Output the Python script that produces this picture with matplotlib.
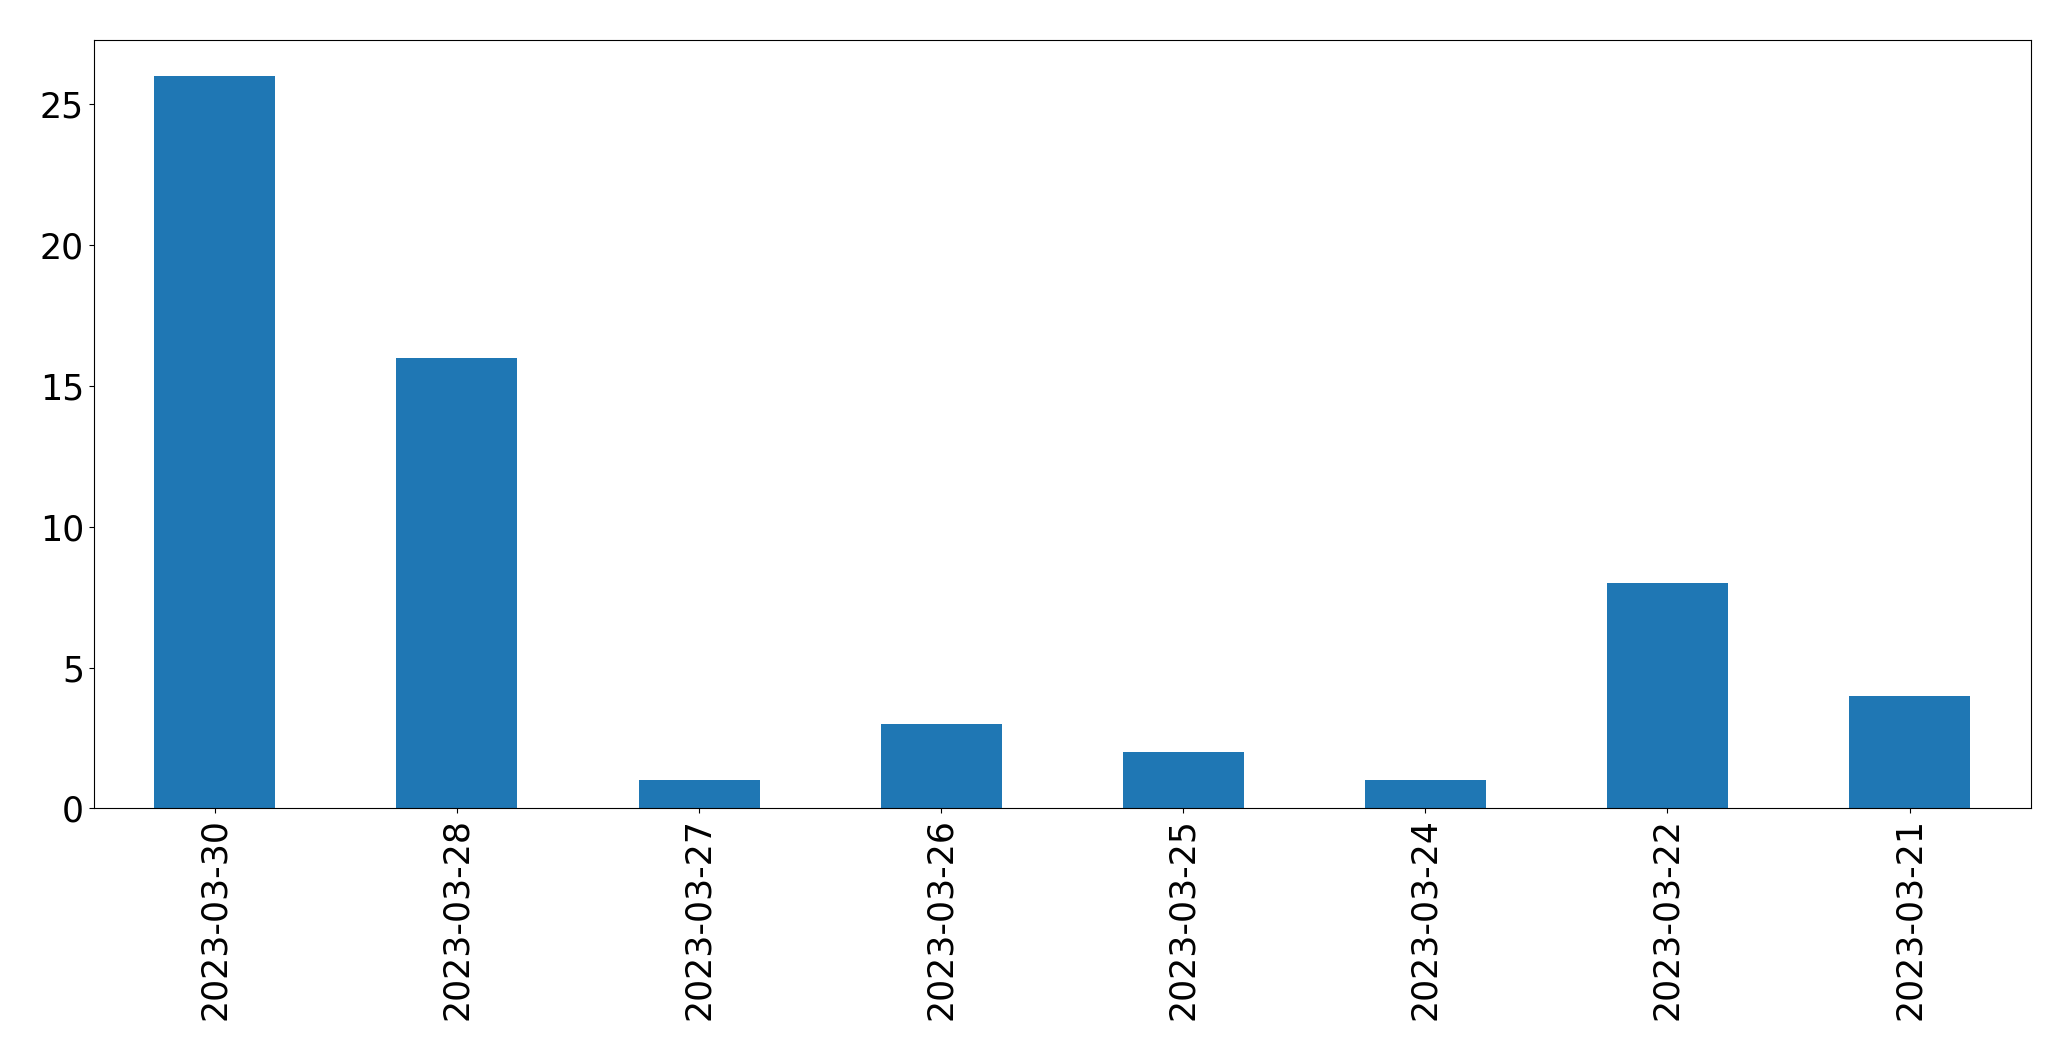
import matplotlib
matplotlib.use("Agg")
import matplotlib.pyplot as plt
import pandas as pd

# counts per day, in the order shown
dates = ["2023-03-30", "2023-03-28", "2023-03-27", "2023-03-26",
         "2023-03-25", "2023-03-24", "2023-03-22", "2023-03-21"]
counts = [26, 16, 1, 3, 2, 1, 8, 4]

s = pd.Series(counts, index=dates)

fig = plt.figure(figsize=(20.71, 10.61), dpi=100)
ax = fig.add_axes([0.0453, 0.238, 0.9352, 0.7247])
s.plot(kind="bar", ax=ax, color="#1f77b4", fontsize=25)
ax.set_xlabel("")

fig.savefig("out.png", dpi=100)
